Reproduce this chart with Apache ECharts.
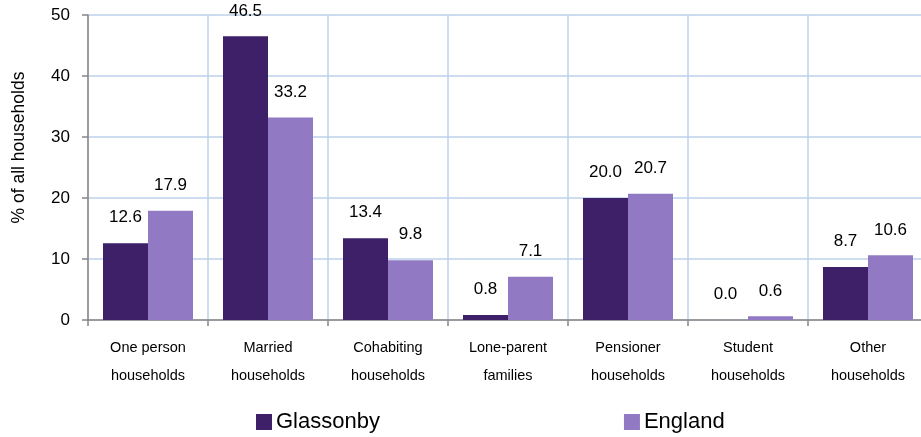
<!DOCTYPE html>
<html>
<head>
<meta charset="utf-8">
<script src="https://cdn.jsdelivr.net/npm/echarts@6/dist/echarts.min.js"></script>
<style>
  html, body { margin: 0; padding: 0; background: #fff; }
  #chart { width: 921px; height: 437px; }
</style>
</head>
<body>
<div id="chart"></div>
<script>
var categories = ['One person\nhouseholds', 'Married\nhouseholds', 'Cohabiting\nhouseholds',
  'Lone-parent\nfamilies', 'Pensioner\nhouseholds', 'Student\nhouseholds', 'Other\nhouseholds'];
var glassonby = [12.6, 46.5, 13.4, 0.8, 20.0, 0.0, 8.7];
var england = [17.9, 33.2, 9.8, 7.1, 20.7, 0.6, 10.6];

var font = 'Liberation Sans, Arial, sans-serif';

function barLabel() {
  return {
    show: true,
    position: 'top',
    distance: 17,
    color: '#000',
    fontFamily: font,
    fontSize: 17,
    formatter: function (p) { return p.value.toFixed(1); }
  };
}

var option = {
  animation: false,
  backgroundColor: '#fff',
  grid: { left: 88, top: 15, width: 840, height: 305, outerBoundsMode: 'none' },
  legend: {
    left: 256,
    top: 411,
    padding: 0,
    itemWidth: 16,
    itemHeight: 16,
    itemGap: 244,
    icon: 'rect',
    textStyle: { fontFamily: font, fontSize: 22, color: '#000', padding: [0, 0, 0, -1] },
    data: ['Glassonby', 'England']
  },
  xAxis: {
    type: 'category',
    data: categories,
    axisLine: { lineStyle: { color: '#878787', width: 1.5 } },
    axisTick: { show: true, length: 6, lineStyle: { color: '#878787', width: 1.5 } },
    splitLine: { show: true, lineStyle: { color: '#bcd0e8', width: 1.5 } },
    axisLabel: {
      color: '#000', fontFamily: font, fontSize: 14.5, lineHeight: 28, margin: 14, interval: 0
    }
  },
  yAxis: {
    type: 'value',
    min: 0,
    max: 50,
    interval: 10,
    name: '% of all households',
    nameLocation: 'middle',
    nameRotate: 90,
    nameGap: 60,
    nameTextStyle: { color: '#000', fontFamily: font, fontSize: 17.5, padding: [0, 0, 0, 40] },
    axisLine: { show: true, lineStyle: { color: '#878787', width: 1.5 } },
    axisTick: { show: true, length: 6, lineStyle: { color: '#878787', width: 1.5 } },
    splitLine: { show: true, lineStyle: { color: '#bcd0e8', width: 1.5 } },
    axisLabel: { color: '#000', fontFamily: font, fontSize: 17, margin: 18 }
  },
  series: [
    {
      name: 'Glassonby',
      type: 'bar',
      data: glassonby,
      barWidth: 45,
      barGap: '0%',
      itemStyle: { color: '#3d2067' },
      label: barLabel()
    },
    {
      name: 'England',
      type: 'bar',
      data: england,
      barWidth: 45,
      itemStyle: { color: '#9179c4' },
      label: barLabel()
    }
  ]
};

var chart = echarts.init(document.getElementById('chart'));
chart.setOption(option);
</script>
</body>
</html>
